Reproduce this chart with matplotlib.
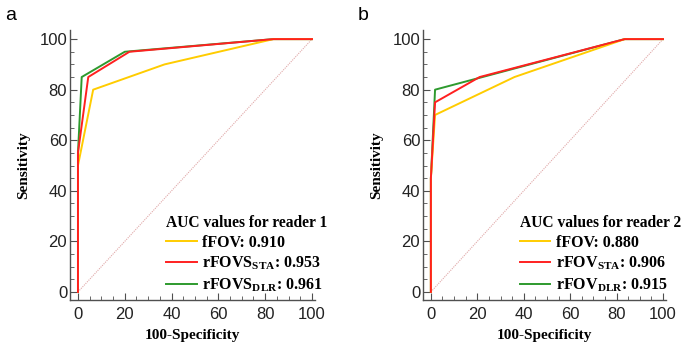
import matplotlib.pyplot as plt
from matplotlib.ticker import MultipleLocator

plt.rcParams['font.family'] = ['Liberation Sans', 'DejaVu Sans']
plt.rcParams['mathtext.fontset'] = 'custom'
plt.rcParams['mathtext.rm'] = 'Liberation Serif:bold'
plt.rcParams['mathtext.bf'] = 'Liberation Serif:bold'

# ROC points (100-specificity, sensitivity)
a_ffov_x = [0, 0, 6.5, 37, 83.5, 100]
a_ffov_y = [0, 50, 80, 90, 100, 100]
a_sta_x = [0, 0, 4.4, 22, 83.5, 100]
a_sta_y = [0, 55, 85, 95, 100, 100]
a_dlr_x = [0, 0, 1.6, 20, 83.5, 100]
a_dlr_y = [0, 55, 85, 95, 100, 100]

b_ffov_x = [0, 0, 1.8, 36, 83.5, 100]
b_ffov_y = [0, 45, 70, 85, 100, 100]
b_sta_x = [0, 0, 1.8, 21, 83.5, 100]
b_sta_y = [0, 45, 75, 85, 100, 100]
b_dlr_x = [0, 0, 1.8, 83.5, 100]
b_dlr_y = [0, 45, 80, 100, 100]

a_labels = ['fFOV: 0.910', r'rFOVS$_{\rm STA}$: 0.953', r'rFOVS$_{\rm DLR}$: 0.961']
b_labels = ['fFOV: 0.880', r'rFOV$_{\rm STA}$: 0.906', r'rFOV$_{\rm DLR}$: 0.915']
colors = ['#ffcc00', '#ff2020', '#2e9a2e']
zorders = [3, 4, 2]

fig = plt.figure(figsize=(6.85, 3.45), dpi=100)
ax1 = fig.add_axes([0.1022, 0.1304, 0.3577, 0.7826])
ax2 = fig.add_axes([0.6175, 0.1304, 0.3548, 0.7826])

panels = [
    (ax1, [(a_ffov_x, a_ffov_y), (a_sta_x, a_sta_y), (a_dlr_x, a_dlr_y)], a_labels, 'AUC values for reader 1', 'a', 0.38),
    (ax2, [(b_ffov_x, b_ffov_y), (b_sta_x, b_sta_y), (b_dlr_x, b_dlr_y)], b_labels, 'AUC values for reader 2', 'b', 0.385),
]

serif_bold = dict(family='Liberation Serif', weight='bold')

for ax, curves, labels, title, tag, lx in panels:
    ax.plot([0, 100], [0, 100], color='#e0a8a8', lw=0.8, ls=(0, (1, 1)), zorder=1)
    for (xs, ys), lab, c, z in zip(curves, labels, colors, zorders):
        ax.plot(xs, ys, color=c, lw=1.4, label=lab, zorder=z)
    ax.set_xlim(-3.4, 101.3)
    ax.set_ylim(-3.2, 103.6)
    ax.spines['top'].set_visible(False)
    ax.spines['right'].set_visible(False)
    for s in ['left', 'bottom']:
        ax.spines[s].set_color('#505050')
        ax.spines[s].set_linewidth(1.0)
    ax.xaxis.set_major_locator(MultipleLocator(20))
    ax.yaxis.set_major_locator(MultipleLocator(20))
    ax.xaxis.set_minor_locator(MultipleLocator(5))
    ax.yaxis.set_minor_locator(MultipleLocator(5))
    ax.tick_params(which='major', direction='in', length=5, color='#505050', labelsize=12, labelcolor='#222222')
    ax.tick_params(which='minor', direction='in', length=3, color='#505050')
    ax.tick_params(axis='y', pad=2)
    ax.tick_params(axis='x', pad=5)
    ax.set_xlabel('100-Specificity', fontsize=11, labelpad=5, **serif_bold)
    ax.set_ylabel('Sensitivity', fontsize=11, labelpad=7, **serif_bold)
    handles, _ = ax.get_legend_handles_labels()
    leg = ax.legend(handles, labels,
                    loc='lower left', bbox_to_anchor=(lx, 0.01), frameon=False, title=title,
                    prop=dict(family='Liberation Serif', weight='bold', size=11.5),
                    handlelength=1.9, handletextpad=0.35, labelspacing=0.25, borderaxespad=0.0,
                    borderpad=0.2)
    leg.get_title().set_fontproperties(dict(family='Liberation Serif', weight='bold', size=11.2))
    leg._legend_box.align = 'left'
    fig.text(ax.get_position().x0 - 0.095, 0.955, tag, fontsize=14, va='center')

fig.savefig('out.png', dpi=100)
